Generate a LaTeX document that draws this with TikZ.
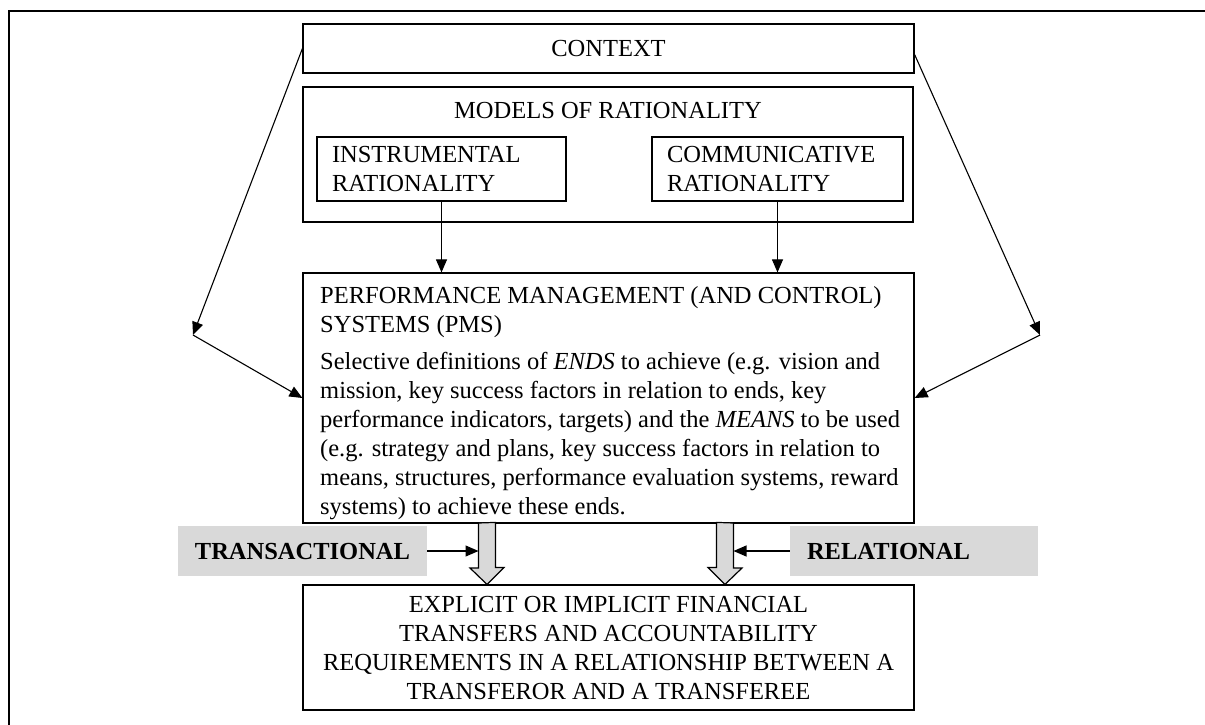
\documentclass[tikz,border=0pt]{standalone}
\usepackage{fontspec}
\setmainfont{Liberation Serif}
\usetikzlibrary{arrows.meta,calc}
\definecolor{grayfill}{HTML}{D9D9D9}
\newcommand\fsz{\fontsize{24.5}{29}\selectfont}
\begin{document}
\begin{tikzpicture}[x=1pt,y=-1pt,
  box/.style={draw, line width=1.2pt, inner sep=0pt, font=\fsz},
  arr/.style={line width=1.1pt, -{Triangle[length=13pt,width=11pt]}},
  graybox/.style={fill=grayfill, inner sep=0pt, font=\fsz\bfseries},
  hollow/.style={draw, line width=1.2pt, fill=grayfill, line join=miter},
]
\useasboundingbox (0,0) rectangle (1205,724);
\clip (0,0) rectangle (1205,724);
\draw[line width=2pt] (9,11) rectangle (1240,760);

\node[box, minimum width=611, minimum height=49] (context) at (608.5,48.5) {CONTEXT};
\node[box, minimum width=610, minimum height=135] (models) at (608,154.5) {};
\node[font=\fsz, anchor=base, inner sep=0pt] (modelst) at (608,118) {MODELS OF RATIONALITY};
\node[box, minimum width=249, minimum height=64, text width=219, align=left, inner xsep=15pt] (instr) at (441.5,169) {INSTRUMENTAL\\RATIONALITY};
\node[box, minimum width=251, minimum height=64, text width=221, align=left, inner xsep=15pt] (comm) at (777.5,169) {COMMUNICATIVE\\RATIONALITY};

\node[box, minimum width=611, minimum height=250] (pms) at (608.5,398) {};
\node[font=\fsz, align=left, anchor=north west, inner sep=0pt] (pmstext) at (320,286)
  {PERFORMANCE MANAGEMENT (AND CONTROL)\\
   SYSTEMS (PMS)\\[8pt]
   Selective definitions of \textit{ENDS} to achieve (e.g. vision and\\
   mission, key success factors in relation to ends, key\\
   performance indicators, targets) and the \textit{MEANS} to be used\\
   (e.g. strategy and plans, key success factors in relation to\\
   means, structures, performance evaluation systems, reward\\
   systems) to achieve these ends.};

\node[box, minimum width=611, minimum height=125, align=center] (final) at (608.5,647.5)
  {EXPLICIT OR IMPLICIT FINANCIAL\\TRANSFERS AND ACCOUNTABILITY\\REQUIREMENTS IN A RELATIONSHIP BETWEEN A\\TRANSFEROR AND A TRANSFEREE};

\node[graybox, minimum width=249, minimum height=50] (trans) at (302.5,551) {TRANSACTIONAL};
\node[graybox, minimum width=248, minimum height=50, text width=214, inner xsep=17pt, align=left] (rel) at (914,551) {RELATIONAL};

% arrows from rationality boxes
\draw[arr] (instr.south) -- (instr.south |- pms.north);
\draw[arr] (comm.south) -- (comm.south |- pms.north);

% context side arrows
\coordinate (lk) at (193,335);
\coordinate (rk) at (1040,335);
\draw[arr] (context.west) -- (lk);
\draw[arr] (lk) -- (pms.west);
\draw[arr] ($(context.east)+(0,6)$) -- (rk);
\draw[arr] (rk) -- (pms.east);

% hollow arrows
\coordinate (h1) at (487,523);
\coordinate (h2) at (725,523);
\coordinate (h1l) at ($(h1)+(-8.5,0)$);
\coordinate (h2r) at ($(h2)+(8.5,0)$);
\draw[hollow] (h1l) -- ++(0,45) -- ++(-8.5,0) -- (h1 |- final.north) -- ++(17,-17) -- ++(-8.5,0) -- ++(0,-45) -- cycle;
\draw[hollow] (h2r) -- ++(0,45) -- ++(8.5,0) -- (h2 |- final.north) -- ++(-17,-17) -- ++(8.5,0) -- ++(0,-45) -- cycle;

\draw[arr] (trans.east) -- (trans.east -| h1l);
\draw[arr] (rel.west) -- (rel.west -| h2r);
\end{tikzpicture}
\end{document}
